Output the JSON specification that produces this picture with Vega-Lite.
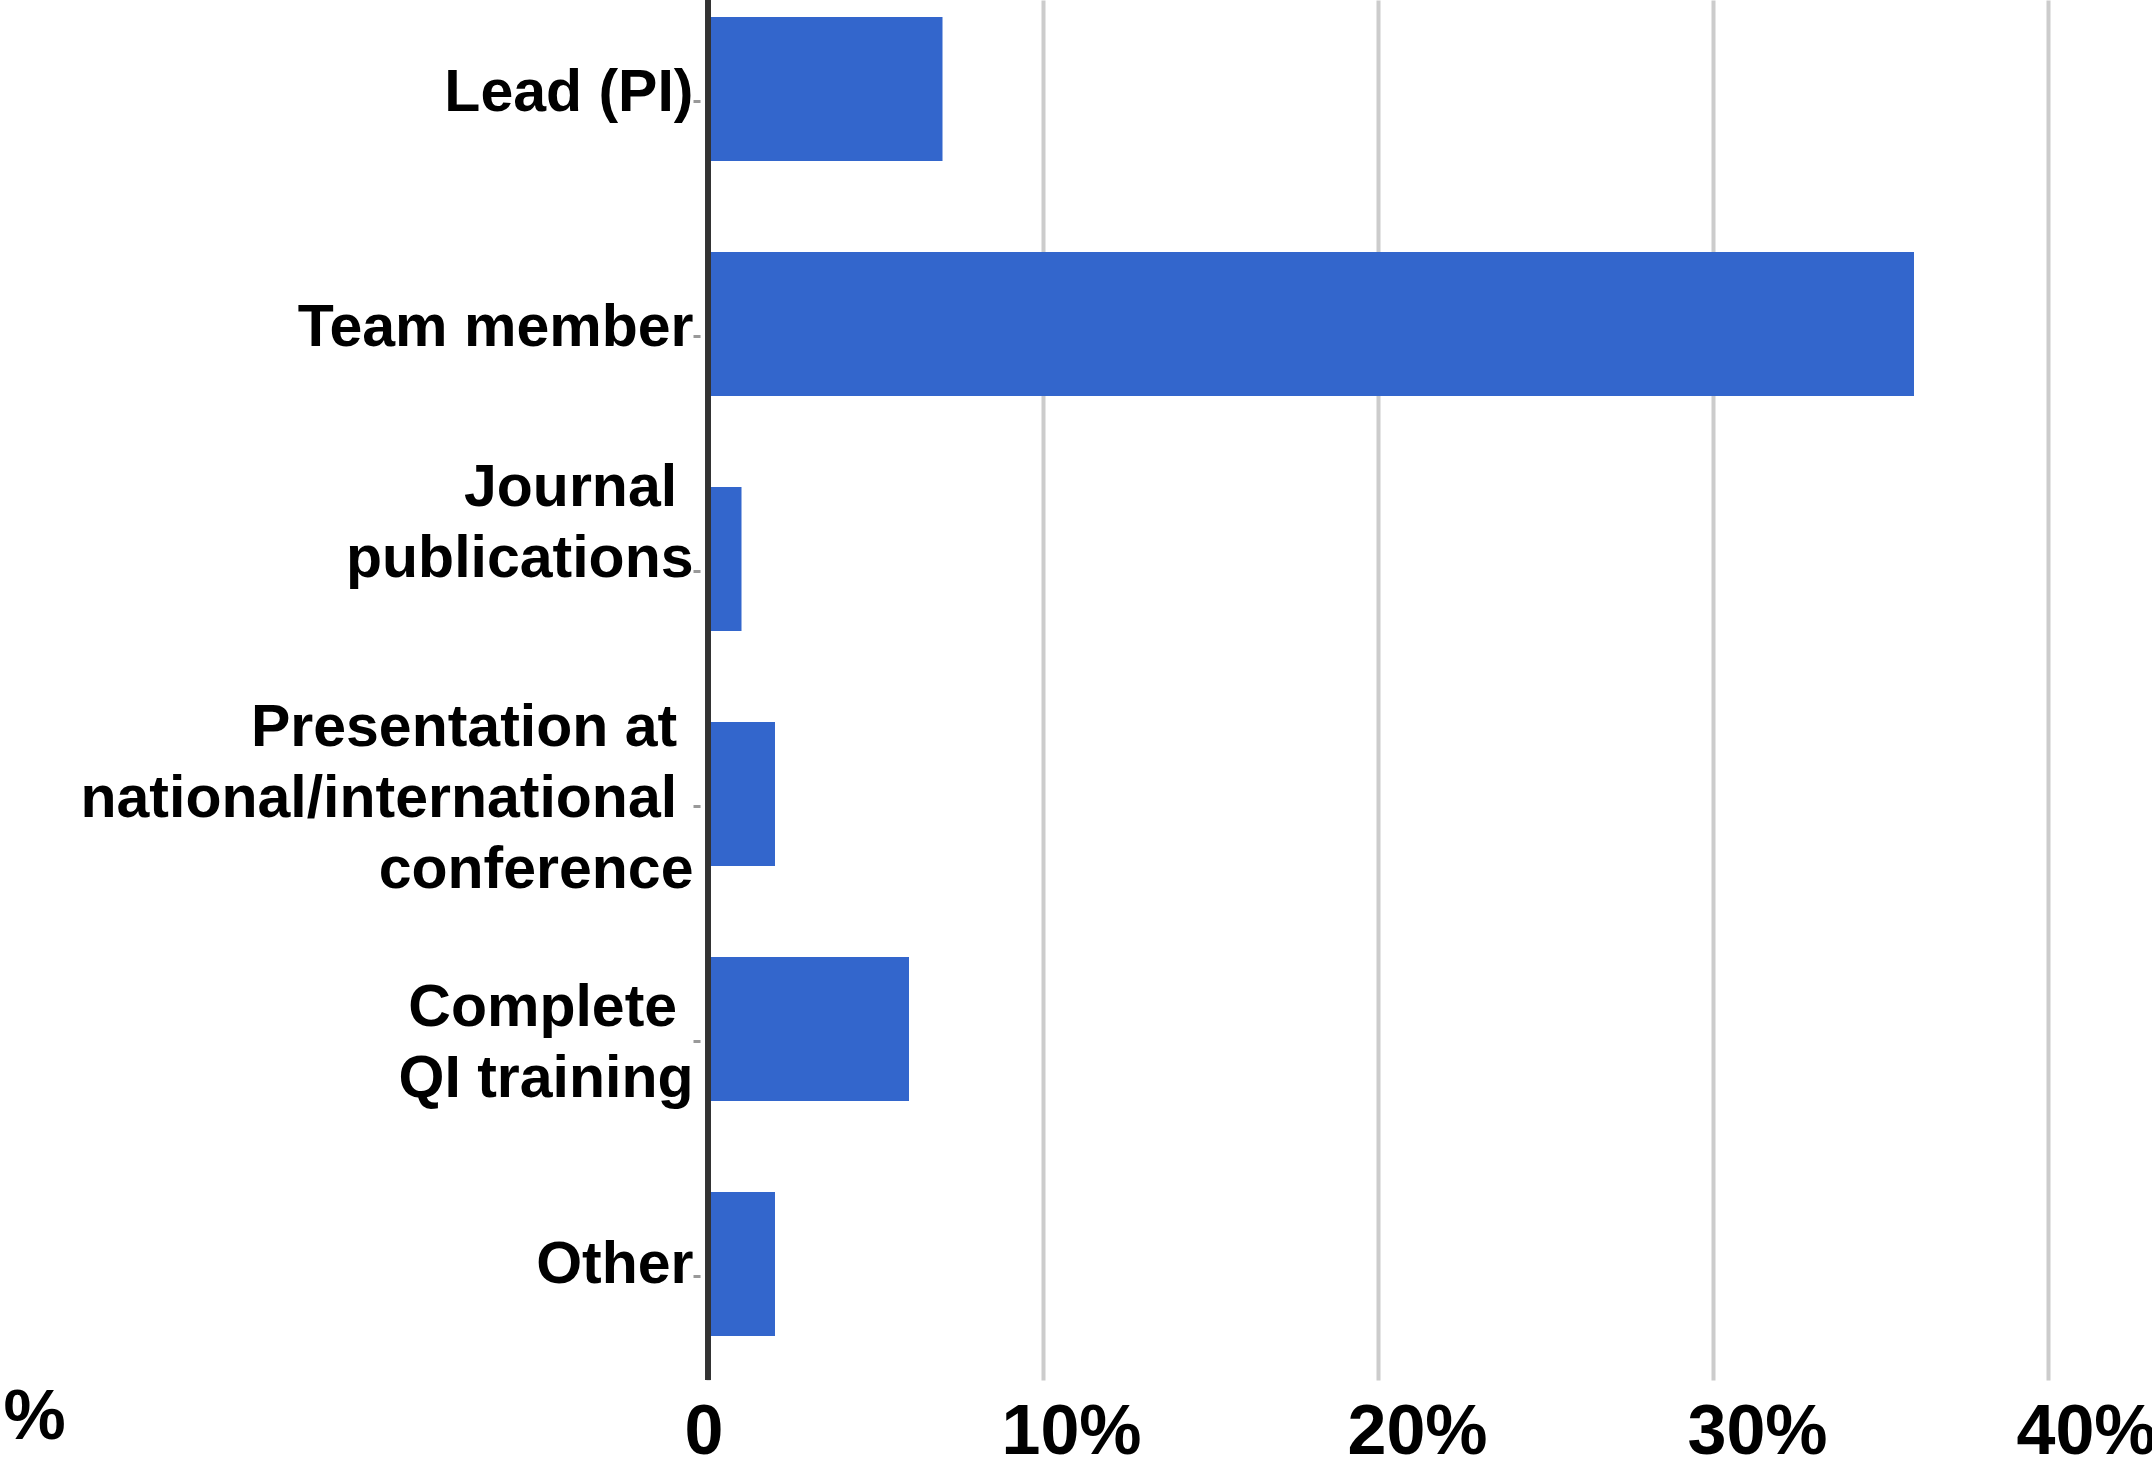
{
  "$schema": "https://vega.github.io/schema/vega-lite/v6.json",
  "autosize": {"type": "none"},
  "padding": {"left": 708, "top": 0, "right": 104, "bottom": 80},
  "width": 1340,
  "height": 1380,
  "background": "white",
  "config": {
    "view": {"stroke": null},
    "font": "Liberation Sans"
  },
  "data": {
    "values": [
      {"category": "Lead (PI)", "pct": 7},
      {"category": "Team member", "pct": 36},
      {"category": "Journal\u00a0\u200b|publications", "pct": 1},
      {"category": "Presentation at\u00a0\u200b|national/international\u00a0\u200b|conference", "pct": 2},
      {"category": "Complete\u00a0\u200b|QI training", "pct": 6},
      {"category": "Other", "pct": 2}
    ]
  },
  "layer": [
    {
      "mark": {"type": "bar", "color": "#3366cc"},
      "encoding": {
        "y": {
          "field": "category",
          "type": "nominal",
          "sort": null,
          "scale": {"paddingInner": 0.3872, "paddingOuter": 0.1298, "align": 0.279},
          "axis": {
            "title": null,
            "domain": false,
            "offset": 8,
            "ticks": true,
            "tickSize": 7,
            "tickWidth": 3,
            "tickColor": "#999999",
            "tickOffset": 12,
            "labelPadding": 0,
            "labelOffset": {
              "condition": [
                {"test": "indexof(datum.value, 'Presentation') === 0", "value": -79},
                {"test": "indexof(datum.value, 'Journal') === 0", "value": -83.5},
                {"test": "indexof(datum.value, 'Complete') === 0", "value": -33.5},
                {"test": "datum.value === 'Other'", "value": -12}
              ],
              "value": -9
            },
            "labelFont": "Liberation Sans",
            "labelFontWeight": "bold",
            "labelFontSize": 59,
            "labelColor": "#000000",
            "labelLineHeight": 71,
            "labelLimit": 1000,
            "labelExpr": "split(datum.label, '|')"
          }
        },
        "x": {
          "field": "pct",
          "type": "quantitative",
          "scale": {"domain": [0, 40], "nice": false},
          "axis": {
            "values": [0, 10, 20, 30, 40],
            "labelExpr": "datum.value === 0 ? '0' : datum.value + '%'",
            "domain": false,
            "ticks": false,
            "tickSize": 0,
            "grid": true,
            "gridColor": "#cccccc",
            "gridWidth": 4,
            "labelFont": "Liberation Sans",
            "labelFontWeight": "bold",
            "labelFontSize": 70,
            "labelColor": "#000000",
            "labelAlign": "left",
            "labelOffset": {
              "condition": [
                {"test": "datum.value === 0", "value": -24},
                {"test": "datum.value === 10", "value": -42},
                {"test": "datum.value === 20", "value": -31},
                {"test": "datum.value === 30", "value": -26}
              ],
              "value": -32
            },
            "labelBaseline": "alphabetic",
            "labelPadding": 73,
            "labelOverlap": false,
            "labelFlush": false,
            "title": "%",
            "titleFont": "Liberation Sans",
            "titleFontWeight": "bold",
            "titleFontSize": 70,
            "titleColor": "#000000",
            "titleAlign": "left",
            "titleAnchor": "start",
            "titleBaseline": "alphabetic",
            "titleX": -705,
            "titleY": 58
          }
        }
      }
    },
    {
      "mark": {"type": "rule", "color": "#333333", "strokeWidth": 5},
      "encoding": {"x": {"datum": 0, "type": "quantitative"}}
    }
  ]
}
